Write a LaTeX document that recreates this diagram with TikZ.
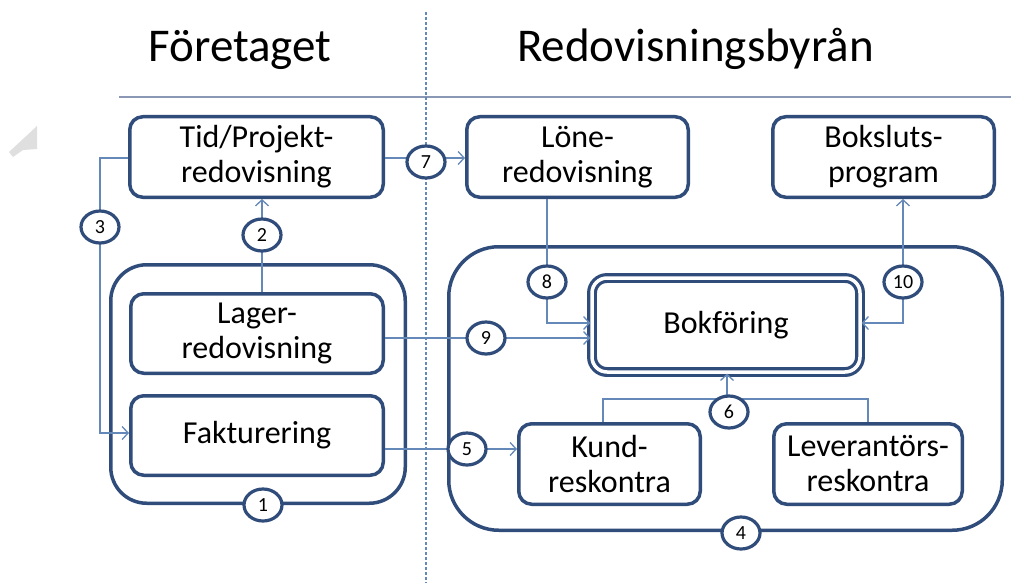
\documentclass[tikz,border=0pt]{standalone}
\usepackage{fontspec}
\setmainfont{Carlito}
\usetikzlibrary{arrows.meta,shapes.geometric}
\definecolor{bdr}{HTML}{2F4C7A}
\definecolor{conn}{HTML}{6488B8}
\definecolor{rule}{HTML}{8A98B6}
\tikzset{
  box/.style={draw=bdr, line width=3.5pt, rounded corners=13pt, align=center,
    fill=white, font=\fontsize{32}{35}\selectfont, inner sep=0pt},
  group/.style={draw=bdr, line width=3.5pt, inner sep=0pt},
  num/.style={ellipse, draw=bdr, line width=3.2pt, fill=white, minimum width=38pt,
    minimum height=32pt, inner sep=0pt, font=\fontsize{20}{20}\selectfont},
  cline/.style={draw=conn, line width=1.5pt},
  barb/.tip={Straight Barb[length=6pt,width=13pt,line width=1.3pt]},
  tip/.style={-barb},
  title/.style={font=\fontsize{47}{50}\selectfont, inner sep=0pt, anchor=base}
}
\begin{document}
\begin{tikzpicture}[x=1pt,y=-1pt]
\useasboundingbox (0,0) rectangle (1011,583);
% watermark fragment
\fill[gray!25] (37,126) -- (9,152) -- (13,157) -- (23,150) -- (37,149) -- cycle;
% titles and rules
\node[title] (t1) at (240,62) {Företaget};
\node[title] (t2) at (695.5,62) {Redovisningsbyrån};
\coordinate (hl) at (119,97);
\coordinate (hr) at (1011,97);
\draw[rule, line width=1.6pt] (hl) -- (hr);
\coordinate (vt) at (426,12);
\coordinate (vb) at (426,583);
\draw[conn, line width=1.1pt, dash pattern=on 3pt off 2pt] (vt) -- (vb);
% group containers
\node[group, rounded corners=36pt, minimum width=294.5pt, minimum height=238.5pt] (g1) at (258,384) {};
\node[group, rounded corners=50pt, minimum width=553.5pt, minimum height=283.5pt] (g4) at (725.5,388.5) {};
% boxes
\node[box, minimum width=253.5pt, minimum height=80.5pt] (tid) at (256.5,157) {Tid/Projekt-\\redovisning};
\node[box, minimum width=252.5pt, minimum height=79.5pt] (lager) at (257,333.5) {Lager-\\redovisning};
\node[box, minimum width=252.5pt, minimum height=79.5pt] (fakt) at (257,435.5) {Fakturering};
\node[box, minimum width=221.5pt, minimum height=80.5pt] (lone) at (577.5,157) {Löne-\\redovisning};
\node[box, minimum width=221.5pt, minimum height=80.5pt] (boks) at (883.5,157) {Boksluts-\\program};
\node[box, minimum width=181.5pt, minimum height=80.5pt] (kund) at (609.5,464) {Kund-\\reskontra};
\node[box, minimum width=188.5pt, minimum height=80.5pt] (lev) at (868,464) {Leverantörs-\\reskontra};
\node[box, double=white, double distance=3.5pt, line width=3.2pt, rounded corners=15pt,
      minimum width=268pt, minimum height=94pt] (bokf) at (726,325) {Bokföring};
% junctions
\coordinate (j6) at (727,399);
% connectors
\draw[cline, tip] (tid.west |- 0,158) -| (100,433) -- (fakt.west |- 0,433);
\draw[cline, tip] (lager.north -| 262,0) -- (tid.south -| 262,0);
\draw[cline, tip] (tid.east |- 0,158) -- (lone.west |- 0,158);
\draw[cline, tip] (lager.east |- 0,338) -- (bokf.west |- 0,338);
\draw[cline, tip] (fakt.east |- 0,449) -- (kund.west |- 0,449);
\draw[cline, tip] (lone.south -| 547,0) |- (bokf.west |- 0,323);
\draw[cline, barb-barb] (bokf.east |- 0,323) -| (boks.south -| 903,0);
\draw[cline] (kund.north -| 603,0) |- (j6) -| (lev.north);
\draw[cline, tip] (j6) -- (bokf.south -| j6);
% numbered circles
\node[num] (c1) at (263,505) {1};
\node[num] (c2) at (262,235) {2};
\node[num] (c3) at (100,227) {3};
\node[num] (c4) at (741,533) {4};
\node[num] (c5) at (467,449) {5};
\node[num] (c6) at (729,412) {6};
\node[num] (c7) at (426,162) {7};
\node[num] (c8) at (547,282) {8};
\node[num] (c9) at (486,338) {9};
\node[num] (c10) at (903,282) {10};
\end{tikzpicture}
\end{document}
